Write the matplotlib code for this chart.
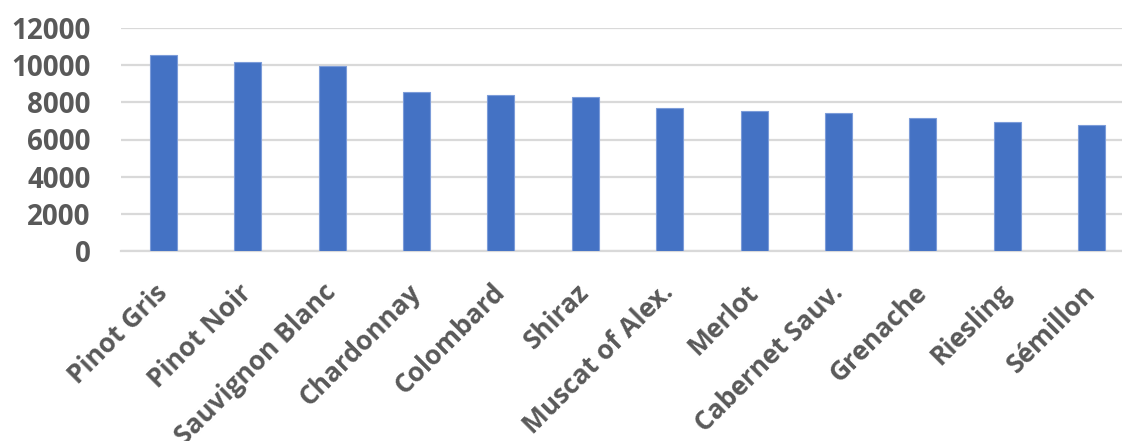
import matplotlib.pyplot as plt

# wine varieties and tonnes crushed
varieties = ['Pinot Gris', 'Pinot Noir', 'Sauvignon Blanc', 'Chardonnay',
             'Colombard', 'Shiraz', 'Muscat of Alex.', 'Merlot',
             'Cabernet Sauv.', 'Grenache', 'Riesling', 'Sémillon']
tonnes = [10530, 10190, 9970, 8570, 8400, 8300, 7680, 7530,
          7410, 7160, 6960, 6780]

grey = '#595959'
font = ['Open Sans', 'DejaVu Sans']

fig = plt.figure(figsize=(11.22, 4.41), dpi=100)
# axes runs a little past the right edge of the figure
ax = fig.add_axes([121/1122, 1 - 251/441, 1013/1122, (251 - 28)/441])

x = range(len(varieties))
ax.bar(x, tonnes, width=0.32, color='#4472C4', edgecolor='#7C9CD9',
       linewidth=0.8, zorder=3)

ax.set_xlim(-0.5, len(varieties) - 0.5)
ax.set_ylim(0, 12000)
ax.set_yticks(range(0, 12001, 2000))
ax.yaxis.grid(True, color='#D9D9D9', linewidth=1.6, zorder=0)
for side in ['top', 'right', 'left']:
    ax.spines[side].set_visible(False)
ax.spines['bottom'].set_color('#D9D9D9')
ax.spines['bottom'].set_linewidth(1.6)
ax.tick_params(length=0)
ax.tick_params(axis='y', pad=22)
ax.tick_params(axis='x', pad=27)

ax.set_xticks(list(x))
ax.set_xticklabels(varieties, rotation=45, ha='right', va='center',
                   rotation_mode='anchor')
for lbl in ax.get_xticklabels():
    lbl.set_fontsize(19)
for lbl in ax.get_yticklabels():
    lbl.set_fontsize(20)
for lbl in ax.get_xticklabels() + ax.get_yticklabels():
    lbl.set_family(font)
    lbl.set_fontweight('bold')
    lbl.set_color(grey)

fig.savefig('out.png', dpi=100)
